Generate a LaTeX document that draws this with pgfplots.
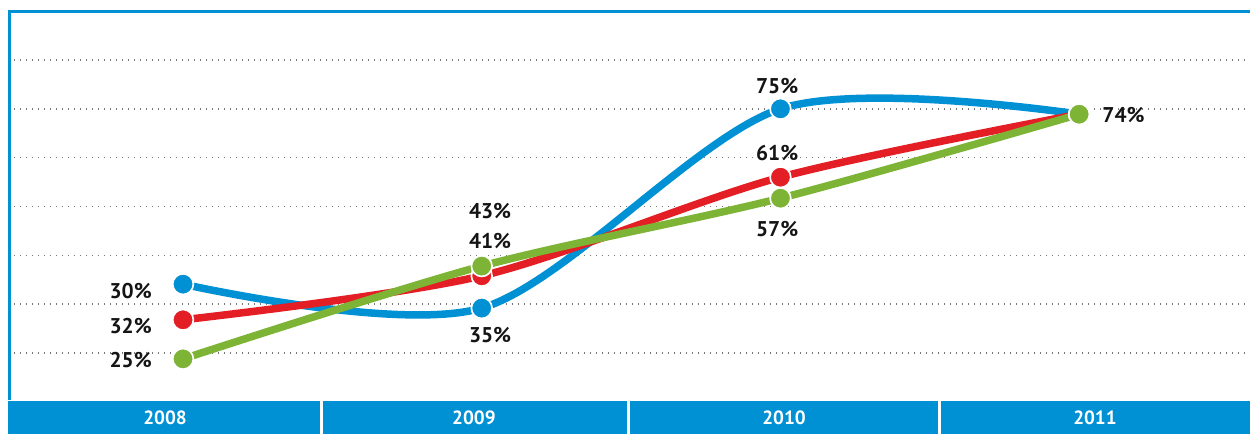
\documentclass[border=0pt]{standalone}
\usepackage{pgfplots}
\pgfplotsset{compat=1.18}
\usepackage{fontspec}
\setmainfont{PT Sans}
\definecolor{cblue}{RGB}{0,144,212}
\definecolor{cred}{RGB}{227,30,36}
\definecolor{cgreen}{RGB}{125,180,54}
\definecolor{cgrid}{RGB}{120,120,120}
\definecolor{ctext}{RGB}{20,20,20}
\tikzset{
  lbl/.style={font=\bfseries\fontsize{12.8}{14}\selectfont, text=ctext, inner sep=0pt},
  yr/.style={font=\bfseries\fontsize{11.5}{13}\selectfont, text=white, inner sep=0pt},
}
\begin{document}
\begin{tikzpicture}
\begin{axis}[
  scale only axis, width=745.2pt, height=254.4pt,
  xmin=-0.586, xmax=3.572, ymin=-6.59, ymax=80.24,
  axis line style={draw=none},
  xtick=\empty, ytick={10,20,30,40,50,60,70}, yticklabels={},
  major tick length=0pt,
  ymajorgrids, grid style={cgrid, line width=0.9pt, dash pattern=on 0.8pt off 2.8pt},
  clip=false,
  every axis plot/.append style={line width=4.5pt, smooth, tension=0.5},
]
\fill[cblue] (rel axis cs:0,0) rectangle (axis cs:3.572,0.17);
\draw[white, line width=1.8pt] (axis cs:0.462,-6.59) -- (axis cs:0.462,0.17);
\draw[white, line width=1.8pt] (axis cs:1.490,-6.59) -- (axis cs:1.490,0.17);
\draw[white, line width=1.8pt] (axis cs:2.534,-6.59) -- (axis cs:2.534,0.17);
\draw[cblue, line width=1.8pt] ([xshift=0.9pt]rel axis cs:0,0.08) -- ([xshift=0.9pt,yshift=-0.9pt]rel axis cs:0,1) -- ([yshift=-0.9pt]rel axis cs:1,1);

\addplot[color=cblue, mark=*, mark size=6.2pt, mark options={draw=white, fill=cblue, line width=1pt}]
  coordinates {(0,24.1) (1,19.2) (2,60.0) (3,58.9)};
\addplot[color=cred, mark=*, mark size=6.2pt, mark options={draw=white, fill=cred, line width=1pt}]
  coordinates {(0,16.8) (1,25.8) (2,46.0) (3,58.9)};
\addplot[color=cgreen, mark=*, mark size=6.2pt, mark options={draw=white, fill=cgreen, line width=1pt}]
  coordinates {(0,8.8) (1,27.8) (2,41.7) (3,58.9)};

\node[lbl, anchor=east] at (axis cs:-0.1038,22.70) {30\%};
\node[lbl, anchor=east] at (axis cs:-0.1038,15.53) {32\%};
\node[lbl, anchor=east] at (axis cs:-0.1038,8.57) {25\%};
\node[lbl] at (axis cs:1.028,39.08) {43\%};
\node[lbl] at (axis cs:1.028,32.94) {41\%};
\node[lbl] at (axis cs:1.028,13.69) {35\%};
\node[lbl] at (axis cs:1.989,64.68) {75\%};
\node[lbl] at (axis cs:1.989,50.96) {61\%};
\node[lbl] at (axis cs:1.989,35.39) {57\%};
\node[lbl, anchor=west] at (axis cs:3.077,58.74) {74\%};

\node[yr] at (axis cs:-0.0603,-3.31) {2008};
\node[yr] at (axis cs:0.974,-3.31) {2009};
\node[yr] at (axis cs:2.012,-3.31) {2010};
\node[yr] at (axis cs:3.053,-3.31) {2011};

\coordinate (TL) at (axis cs:-0.6127,82.29);
\coordinate (BR) at (axis cs:3.572,-6.59);
\end{axis}
\pgfresetboundingbox
\useasboundingbox (TL) rectangle (BR);
\end{tikzpicture}
\end{document}
